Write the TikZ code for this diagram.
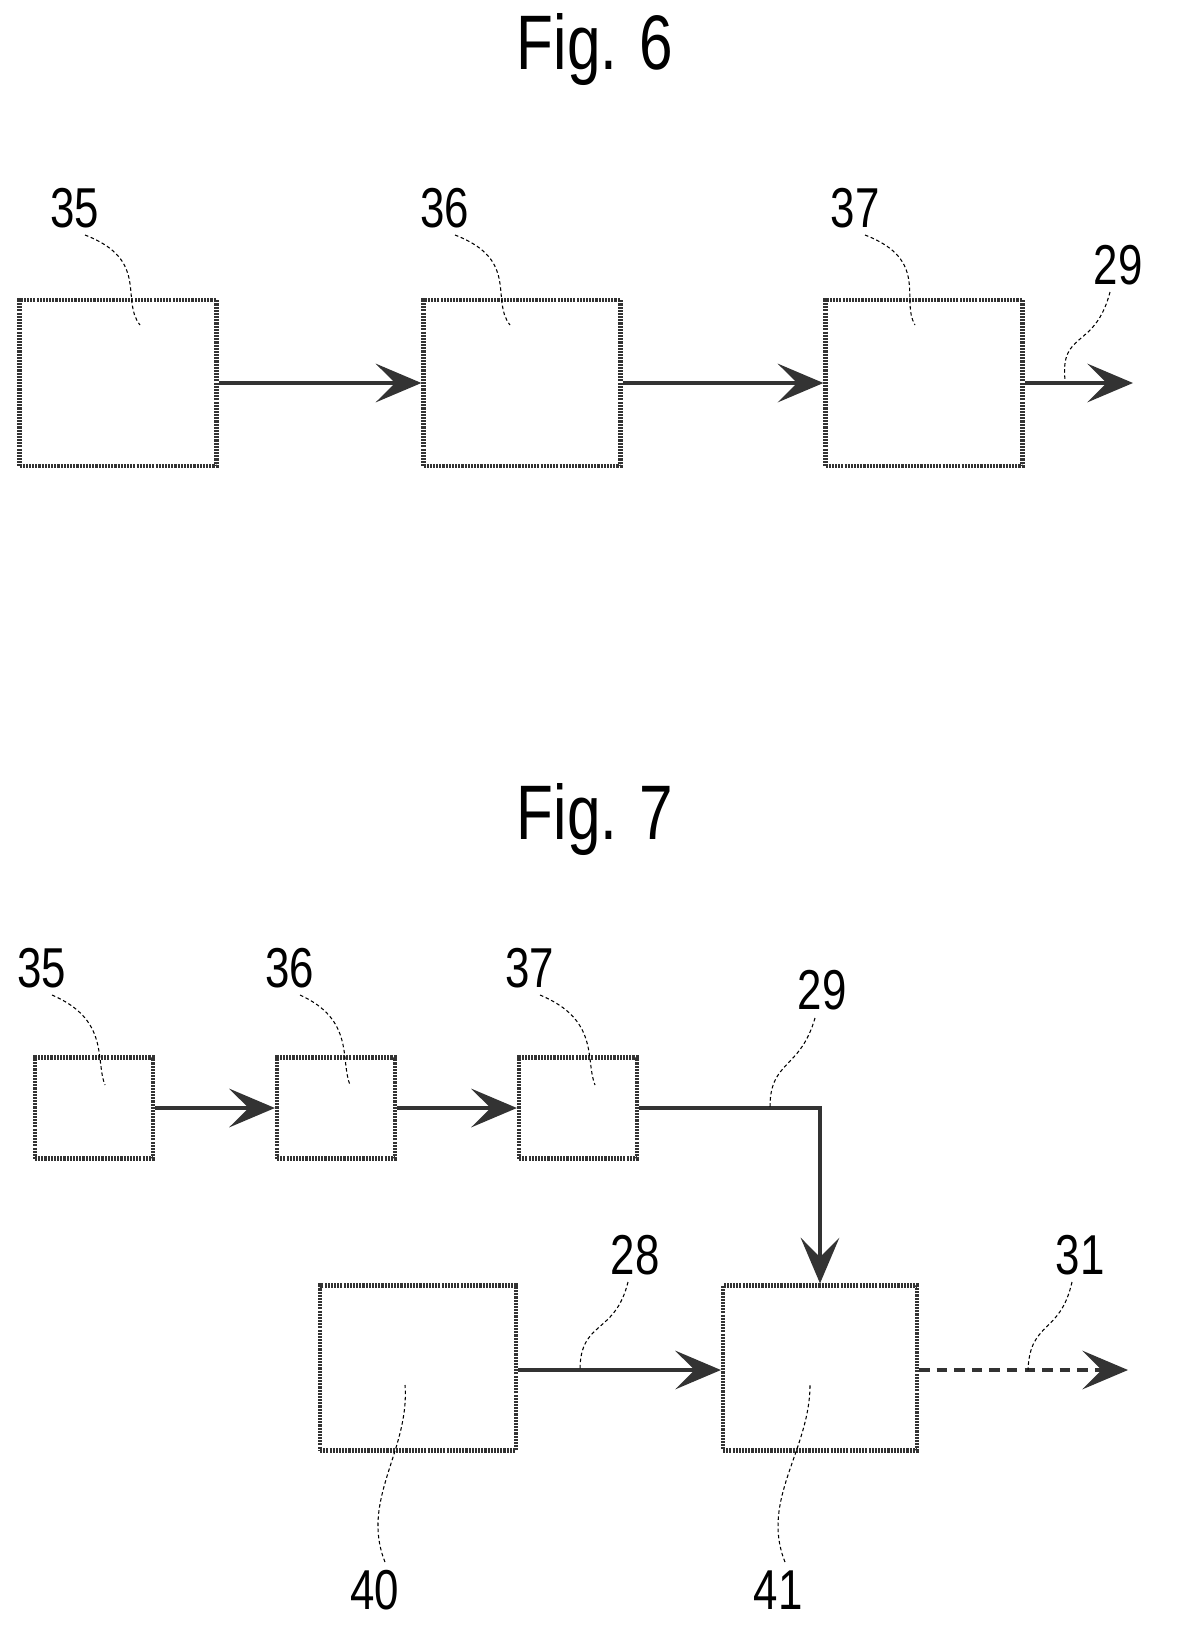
\documentclass[tikz,border=0pt]{standalone}
\usepackage{fontspec}
\setmainfont{Liberation Sans}
\usetikzlibrary{arrows.meta}
\tikzset{
  blk/.style={draw=black!80,line width=2.4pt,dash pattern=on 1.2pt off 0.6pt,inner sep=0pt},
  flow/.style={draw=black!80,line width=2.2pt,-{Stealth[length=26pt,width=22pt,inset=11pt]}},
  lead/.style={line width=0.6pt,dash pattern=on 2pt off 1.5pt},
  num/.style={font=\fontsize{32}{32}\selectfont,xscale=0.78},
  ttl/.style={font=\fontsize{44}{44}\selectfont,xscale=0.78}
}
\begin{document}
\begin{tikzpicture}[x=0.02cm,y=-0.02cm]
  \useasboundingbox (0,0) rectangle (1201,1633);
  % Fig. 6
  \node[ttl] (t6) at (595,50) {Fig. 6};
  \node[blk,minimum width=3.94cm,minimum height=3.32cm] (a35) at (118,383) {};
  \node[blk,minimum width=3.94cm,minimum height=3.32cm] (a36) at (522,383) {};
  \node[blk,minimum width=3.94cm,minimum height=3.32cm] (a37) at (924,383) {};
  \coordinate (a29) at (1133,383);
  \draw[flow] (a35) -- (a36);
  \draw[flow] (a36) -- (a37);
  \draw[flow] (a37) -- (a29);
  \node[num] (l35) at (75,208) {35};
  \node[num] (l36) at (445,208) {36};
  \node[num] (l37) at (855,208) {37};
  \node[num] (l29) at (1118,265) {29};
  \draw[lead] (85,235) .. controls (150,260) and (120,300) .. (140,325);
  \draw[lead] (455,235) .. controls (520,260) and (490,300) .. (510,325);
  \draw[lead] (865,235) .. controls (930,260) and (900,300) .. (915,325);
  \draw[lead] (1110,292) .. controls (1095,350) and (1060,330) .. (1065,380);
  % Fig. 7
  \node[ttl] (t7) at (595,820) {Fig. 7};
  \node[blk,minimum width=2.36cm,minimum height=2.02cm] (b35) at (94,1108) {};
  \node[blk,minimum width=2.36cm,minimum height=2.02cm] (b36) at (336,1108) {};
  \node[blk,minimum width=2.36cm,minimum height=2.02cm] (b37) at (578,1108) {};
  \node[blk,minimum width=3.92cm,minimum height=3.3cm] (b40) at (418,1368) {};
  \node[blk,minimum width=3.88cm,minimum height=3.3cm] (b41) at (820,1368) {};
  \coordinate (b31) at (1128,1370);
  \draw[flow] (b35) -- (b36);
  \draw[flow] (b36) -- (b37);
  \draw[flow] (b37.east) -| (b41.north);
  \draw[flow] (b40.east |- 0,1370) -- (b41.west |- 0,1370);
  \draw[flow,dash pattern=on 6pt off 4pt] (b41.east |- 0,1370) -- (b31);
  \node[num] (m35) at (42,968) {35};
  \node[num] (m36) at (290,968) {36};
  \node[num] (m37) at (530,968) {37};
  \node[num] (m29) at (822,990) {29};
  \node[num] (m28) at (635,1255) {28};
  \node[num] (m31) at (1080,1255) {31};
  \node[num] (m40) at (375,1590) {40};
  \node[num] (m41) at (778,1590) {41};
  \draw[lead] (52,995) .. controls (110,1020) and (95,1060) .. (105,1085);
  \draw[lead] (300,995) .. controls (355,1020) and (340,1060) .. (350,1085);
  \draw[lead] (540,995) .. controls (600,1020) and (585,1060) .. (595,1085);
  \draw[lead] (815,1018) .. controls (800,1070) and (770,1060) .. (770,1107);
  \draw[lead] (628,1282) .. controls (615,1335) and (580,1320) .. (580,1370);
  \draw[lead] (1072,1282) .. controls (1060,1335) and (1030,1320) .. (1028,1370);
  \draw[lead] (385,1562) .. controls (360,1500) and (410,1450) .. (405,1385);
  \draw[lead] (785,1562) .. controls (760,1500) and (810,1450) .. (810,1385);
\end{tikzpicture}
\end{document}
